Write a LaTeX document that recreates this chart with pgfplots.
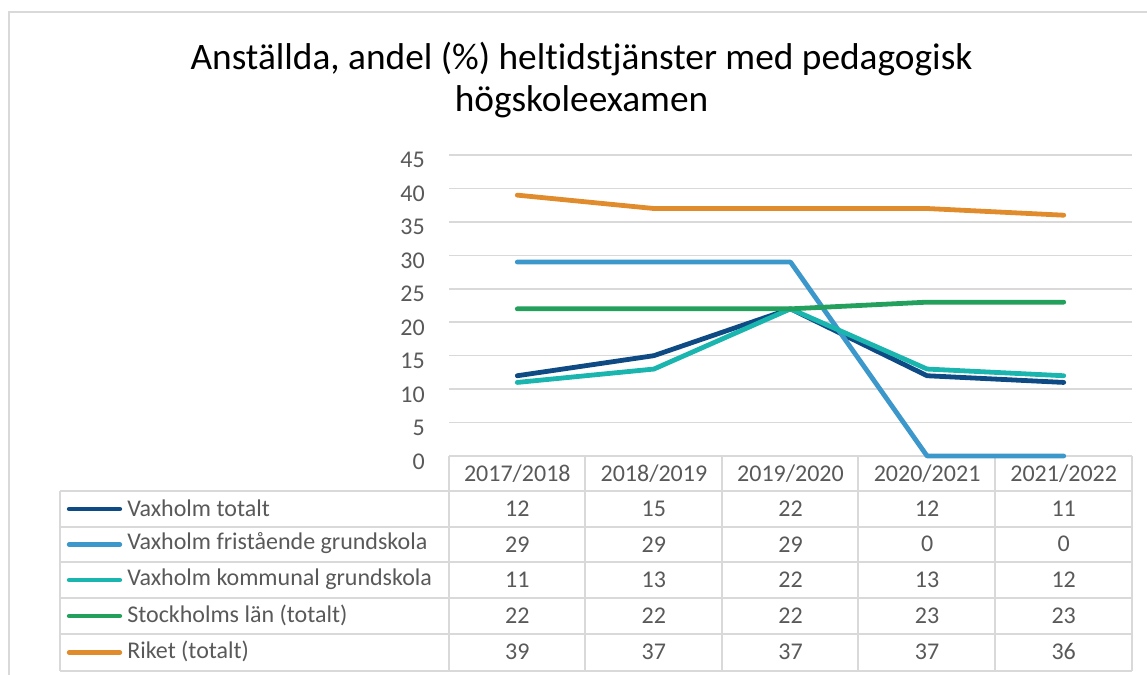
\documentclass[border=0pt]{standalone}
\usepackage{fontspec}
\setmainfont{Carlito}[Ligatures=NoCommon]
\usepackage{pgfplots}
\usepackage{pgfplotstable}
\pgfplotsset{compat=1.18}
\definecolor{cNavy}{HTML}{0E4A84}
\definecolor{cBlue}{HTML}{3C97CB}
\definecolor{cTeal}{HTML}{1AB5AE}
\definecolor{cGreen}{HTML}{22A05C}
\definecolor{cOrange}{HTML}{E08C2D}
\definecolor{gridc}{HTML}{D9D9D9}
\definecolor{txt}{HTML}{595959}

\pgfplotstableread{
x vt vf vk sl ri
0 12 29 11 22 39
1 15 29 13 22 37
2 22 29 22 22 37
3 12 0 13 23 37
4 11 0 12 23 36
}\data

\newcommand{\tabfont}{\fontsize{18}{20}\selectfont}

\begin{document}
\begin{tikzpicture}
\useasboundingbox (0,0) rectangle (860.25pt,-506.25pt);
\clip (0,0) rectangle (860.25pt,-506.25pt);
\begin{scope}[x=0.75pt,y=-0.75pt]
  % outer frame
  \draw[gridc, line width=0.9pt] (9,12) rectangle (1180,700);
  % title
  \node[align=center, font=\fontsize{28}{31}\selectfont, text=black] at (581.5,80)
    {Anställda, andel (\%) heltidstjänster med pedagogisk\\högskoleexamen};
  % table lines
  \begin{scope}[gridc, line width=1.1pt]
    \foreach \yy in {491,527,562,598,634,671} \draw (60,\yy) -- (1132,\yy);
    \draw (60,491) -- (60,671);
    \foreach \xx in {449,585,722,858,995,1132} \draw (\xx,456) -- (\xx,671);
    \draw (449,456) -- (1132,456);
  \end{scope}
  % legend keys
  \begin{scope}[line width=3.2pt, line cap=round]
    \draw[cNavy] (69,509) -- (120,509);
    \draw[cBlue] (69,544.5) -- (120,544.5);
    \draw[cTeal] (69,580) -- (120,580);
    \draw[cGreen] (69,616) -- (120,616);
    \draw[cOrange] (69,652.5) -- (120,652.5);
  \end{scope}
  \begin{scope}[every node/.style={anchor=west, inner sep=0pt, text=txt, font=\tabfont}]
    \node at (127,508) {Vaxholm totalt};
    \node at (127,543.5) {Vaxholm fristående grundskola};
    \node at (127,579) {Vaxholm kommunal grundskola};
    \node at (127,615) {Stockholms län (totalt)};
    \node at (127,651.5) {Riket (totalt)};
  \end{scope}
\end{scope}

\begin{axis}[
  at={(449*0.75pt,-456*0.75pt)}, anchor=south west,
  width=512.25pt, height=225.75pt, scale only axis,
  xmin=-0.5, xmax=4.5, ymin=0, ymax=45,
  xtick={0,1,2,3,4},
  xticklabels={2017/2018,2018/2019,2019/2020,2020/2021,2021/2022},
  ytick={0,5,...,45},
  /pgf/number format/assume math mode=true,
  ymajorgrids, grid style={gridc, line width=1.2pt},
  axis line style={draw=none}, major tick style={draw=none},
  tick label style={text=txt, font=\tabfont, inner sep=0pt},
  xticklabel style={anchor=center, yshift=-13.1pt},
  yticklabel style={anchor=east, xshift=-18pt, yshift=-4pt},
  clip=false,
]
\addplot[cNavy, line width=3.6pt, line join=round, line cap=round, mark=none] table[x=x, y=vt] {\data};
\addplot[cBlue, line width=3.6pt, line join=round, line cap=round, mark=none] table[x=x, y=vf] {\data};
\addplot[cTeal, line width=3.6pt, line join=round, line cap=round, mark=none] table[x=x, y=vk] {\data};
\addplot[cGreen, line width=3.6pt, line join=round, line cap=round, mark=none] table[x=x, y=sl] {\data};
\addplot[cOrange, line width=3.6pt, line join=round, line cap=round, mark=none] table[x=x, y=ri] {\data};
\end{axis}

\begin{axis}[
  at={(449*0.75pt,-671*0.75pt)}, anchor=south west,
  width=512.25pt, height=161.25pt, scale only axis,
  xmin=-0.5, xmax=4.5, ymin=0, ymax=6,
  hide axis, clip=false,
  /pgf/number format/assume math mode=true,
  tabrow/.style={draw=none, mark=none, nodes near coords, point meta=explicit,
    nodes near coords align=center,
    every node near coord/.append style={text=txt, font=\tabfont, anchor=center, inner sep=0pt, yshift=1pt}},
]
\addplot[tabrow] table[x=x, y expr=4.5, meta=vt] {\data};
\addplot[tabrow] table[x=x, y expr=3.5, meta=vf] {\data};
\addplot[tabrow] table[x=x, y expr=2.5, meta=vk] {\data};
\addplot[tabrow] table[x=x, y expr=1.5, meta=sl] {\data};
\addplot[tabrow] table[x=x, y expr=0.5, meta=ri] {\data};
\end{axis}
\end{tikzpicture}
\end{document}
